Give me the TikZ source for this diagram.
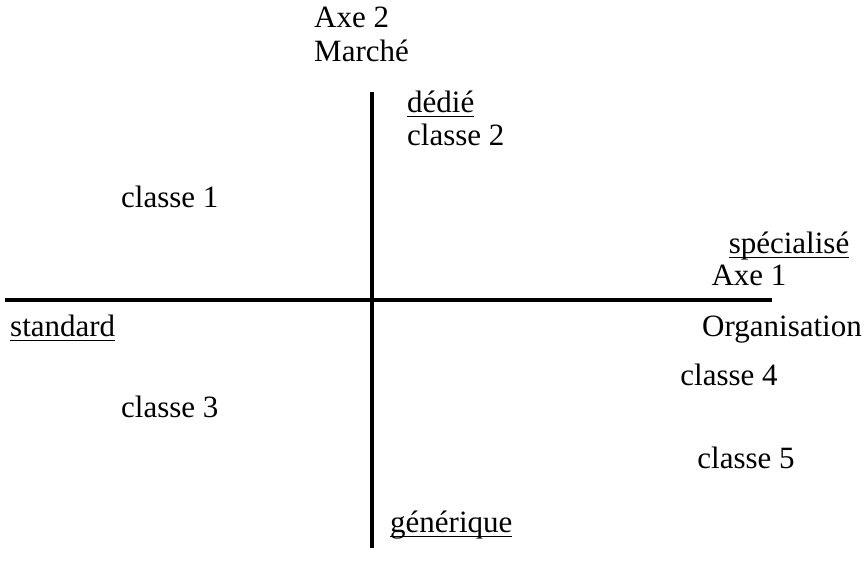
\documentclass[tikz,border=0pt]{standalone}
\usepackage{fontspec}
\setmainfont{Liberation Serif}
\newcommand\myul[1]{\setbox0\hbox{#1}\rlap{\raisebox{-4.5pt}{\rule{\wd0}{1.8pt}}}\box0}
\begin{document}
\begin{tikzpicture}[x=1pt,y=1pt,
  lbl/.style={anchor=base west,inner sep=0pt,font=\fontsize{31}{33}\selectfont},
  lblc/.style={lbl,anchor=base},
  lblr/.style={lbl,anchor=base east},
  axis/.style={line width=3.2pt}]
\useasboundingbox (0,0) rectangle (867,564);
\fill[white] (0,0) rectangle (867,564);
% axes
\coordinate (vtop) at (372,472);
\coordinate (vbot) at (372,16);
\coordinate (hl) at (5,264);
\coordinate (hr) at (772,264);
\draw[axis] (vtop) -- (vbot);
\draw[axis] (hl) -- (hr);
% labels
\node[lbl] (axe2) at (314,536) {Axe 2};
\node[lbl] (marche) at (314,502) {Marché};
\node[lbl] (dedie) at (407,451) {\myul{dédié}};
\node[lbl] (c2) at (407,418) {classe 2};
\node[lbl] (c1) at (121,356) {classe 1};
\node[lblc] (spec) at (789,310) {\myul{spécialisé}};
\node[lblc] (axe1) at (749,278) {Axe 1};
\node[lbl] (std) at (10,227) {\myul{standard}};
\node[lblr] (org) at (862,227) {Organisation};
\node[lblc] (c4) at (729,178) {classe 4};
\node[lbl] (c3) at (121,146) {classe 3};
\node[lblc] (c5) at (746,95) {classe 5};
\node[lbl] (gen) at (390,31) {\myul{générique}};
\end{tikzpicture}
\end{document}
